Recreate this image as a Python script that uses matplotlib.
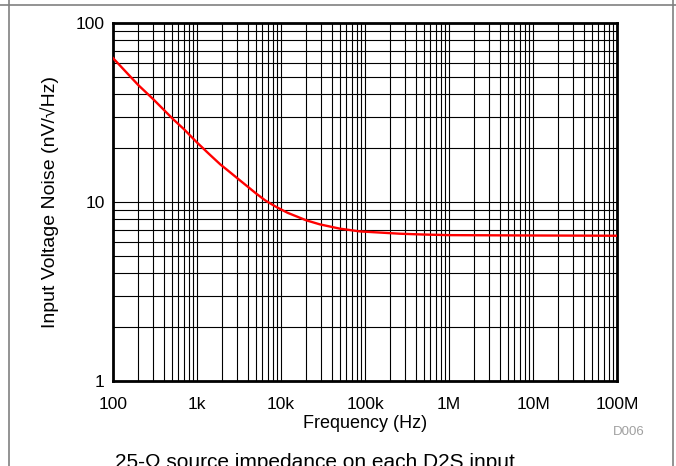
import numpy as np
import matplotlib.pyplot as plt
from matplotlib.lines import Line2D
from matplotlib.ticker import FixedLocator, FixedFormatter, LogLocator, NullFormatter

plt.rcParams['font.family'] = ['Liberation Sans', 'DejaVu Sans']

# values
freq_hz = [100, 200, 300, 520, 700, 1000, 1400, 1900, 2250, 3250, 4000,
           5000, 6500, 8900, 12000, 20000, 29000, 50000, 87000, 150000,
           260000, 500000, 1e6, 1e7, 1e8]
noise_nv = [63.7, 45.0, 37.6, 29.0, 25.5, 21.5, 18.5, 16.2, 15.2, 13.2, 12.2,
            11.2, 10.2, 9.35, 8.7, 7.9, 7.5, 7.1, 6.85, 6.75,
            6.65, 6.58, 6.53, 6.5, 6.48]

x_ticks = [1e2, 1e3, 1e4, 1e5, 1e6, 1e7, 1e8]
x_labels = ['100', '1k', '10k', '100k', '1M', '10M', '100M']
y_ticks = [1, 10, 100]
y_labels = ['1', '10', '100']

W, H = 676, 466
fig = plt.figure(figsize=(W / 100, H / 100), dpi=100)
ax = fig.add_axes([113 / W, 1 - 381 / H, (617 - 113) / W, (381 - 23) / H])

ax.set_xscale('log')
ax.set_yscale('log')
ax.set_xlim(1e2, 1e8)
ax.set_ylim(1, 100)

ax.plot(freq_hz, noise_nv, color='#ff0000', lw=1.7, zorder=3)

ax.xaxis.set_major_locator(FixedLocator(x_ticks))
ax.xaxis.set_major_formatter(FixedFormatter(x_labels))
ax.yaxis.set_major_locator(FixedLocator(y_ticks))
ax.yaxis.set_major_formatter(FixedFormatter(y_labels))
ax.xaxis.set_minor_locator(LogLocator(base=10, subs=np.arange(2, 10), numticks=20))
ax.yaxis.set_minor_locator(LogLocator(base=10, subs=np.arange(2, 10), numticks=20))
ax.xaxis.set_minor_formatter(NullFormatter())
ax.yaxis.set_minor_formatter(NullFormatter())

ax.grid(True, which='both', color='black', lw=0.8)
ax.set_axisbelow(True)
ax.tick_params(which='both', length=0, labelsize=12.5)
ax.tick_params(axis='x', pad=11.5)
ax.tick_params(axis='y', pad=6)
for s in ax.spines.values():
    s.set_linewidth(2)
    s.set_color('black')

ax.set_xlabel('Frequency (Hz)', fontsize=13, labelpad=2.5)
ax.set_ylabel('Input Voltage Noise (nV/\u221aHz)', fontsize=14, labelpad=12)

fig.text(645 / W, 1 - 432 / H, 'D006', color='#a0a0a0', fontsize=9.5,
         ha='right', va='center')
fig.text(115 / W, 1 - 453 / H, '25-\u03a9 source impedance on each D2S input',
         fontsize=15, ha='left', va='top')

# table cell border around the figure
fig.add_artist(Line2D([0, 1], [1 - 5 / H, 1 - 5 / H], color='#808080', lw=1.2))
fig.add_artist(Line2D([9 / W, 9 / W], [0, 1], color='#808080', lw=1.2))
fig.add_artist(Line2D([673 / W, 673 / W], [0, 1], color='#808080', lw=1.2))

fig.savefig('out.png', dpi=100)
